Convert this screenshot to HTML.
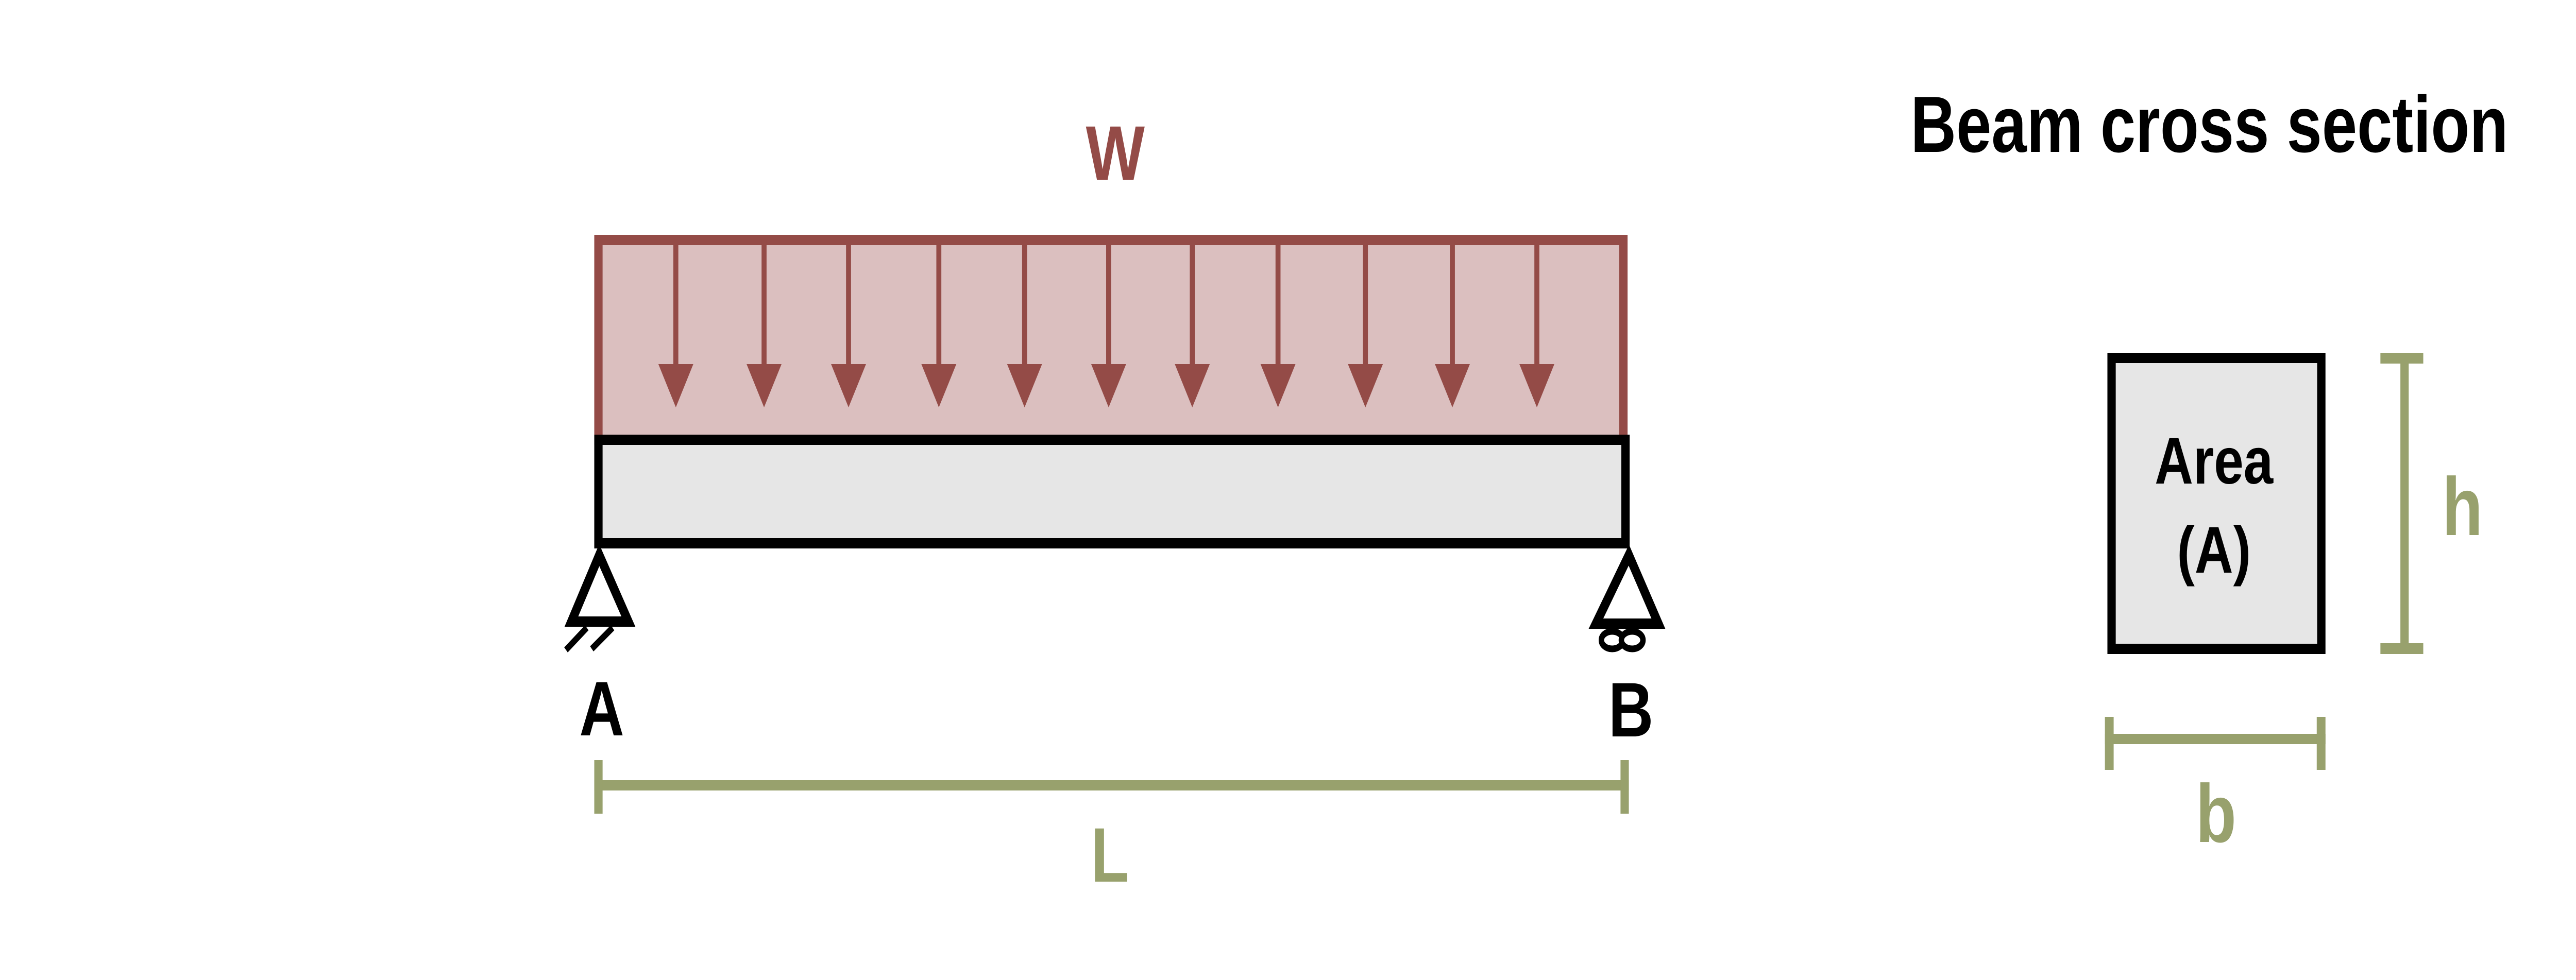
<!DOCTYPE html>
<html><head><meta charset="utf-8"><style>
html,body{margin:0;padding:0;background:#fff;overflow:hidden;width:100vw;height:100vh;}
svg{display:block;width:100vw;height:100vh;}
text{font-family:"Liberation Sans","DejaVu Sans",sans-serif;font-weight:bold;}
</style></head><body>
<svg id="s" viewBox="0 0 6190 1903" preserveAspectRatio="none" xmlns="http://www.w3.org/2000/svg">
<rect width="6190" height="1903" fill="#fff"/>
<text x="2680" y="349" font-size="150" fill="#944b47" text-anchor="middle">W</text>
<rect x="1438" y="466" width="2463" height="388" fill="#dbbfbf" stroke="#944b47" stroke-width="20"/>
<g id="arrows"></g>
<rect x="1438" y="854" width="2468" height="201" fill="#e6e6e6" stroke="#000" stroke-width="20"/>
<polygon points="1440,1078 1373,1207 1510,1207" fill="#fff" stroke="#000" stroke-width="20"/>
<line x1="1360" y1="1262" x2="1410" y2="1219" stroke="#000" stroke-width="13"/>
<line x1="1422" y1="1260" x2="1472" y2="1219" stroke="#000" stroke-width="13"/>
<text x="1446" y="1428" font-size="150" fill="#000" text-anchor="middle">A</text>
<polygon points="3914,1078 3835,1211 3985,1211" fill="#fff" stroke="#000" stroke-width="20"/>
<ellipse cx="3874" cy="1243" rx="26" ry="17" fill="#fff" stroke="#000" stroke-width="13"/>
<ellipse cx="3922" cy="1243" rx="26" ry="17" fill="#fff" stroke="#000" stroke-width="13"/>
<text x="3919" y="1430" font-size="150" fill="#000" text-anchor="middle">B</text>
<g fill="#98a16d">
<rect x="1428" y="1515" width="2486" height="20"/>
<rect x="1428" y="1476" width="20" height="104"/>
<rect x="3894" y="1476" width="20" height="104"/>
</g>
<text x="2667" y="1712" font-size="150" fill="#98a16d" text-anchor="middle">L</text>
<text x="4591" y="295" font-size="155" fill="#000" textLength="1436" lengthAdjust="spacingAndGlyphs">Beam cross section</text>
<rect x="5074" y="695" width="504" height="565" fill="#e6e6e6" stroke="#000" stroke-width="20"/>
<text x="5320" y="939" font-size="128" fill="#000" text-anchor="middle">Area</text>
<text x="5320" y="1112" font-size="128" fill="#000" text-anchor="middle">(A)</text>
<g fill="#98a16d">
<rect x="5768" y="685" width="20" height="585"/>
<rect x="5720" y="685" width="103" height="21"/>
<rect x="5720" y="1249" width="103" height="21"/>
</g>
<text x="5917" y="1039" font-size="160" fill="#98a16d" text-anchor="middle">h</text>
<g fill="#98a16d">
<rect x="5058" y="1425" width="530" height="20"/>
<rect x="5058" y="1392" width="21" height="103"/>
<rect x="5567" y="1392" width="21" height="103"/>
</g>
<text x="5325" y="1635" font-size="160" fill="#98a16d" text-anchor="middle">b</text>
</svg>
<script>
const arrowX = [1624, 1836, 2039, 2256, 2462, 2664, 2865, 3071, 3281, 3490, 3693];
const g = document.getElementById('arrows');
const NS = 'http://www.w3.org/2000/svg';
arrowX.forEach(function (x, i) {
  const l = document.createElementNS(NS, 'rect');
  l.setAttribute('x', x - 6);
  l.setAttribute('y', 466);
  l.setAttribute('width', 12);
  l.setAttribute('height', 245);
  l.setAttribute('fill', '#944b47');
  
  
  g.appendChild(l);
  const p = document.createElementNS(NS, 'polygon');
  p.setAttribute('points', (x - 42) + ',707 ' + (x + 42) + ',707 ' + x + ',791');
  p.setAttribute('fill', '#944b47');
  
  
  g.appendChild(p);
});
</script>
</body></html>
